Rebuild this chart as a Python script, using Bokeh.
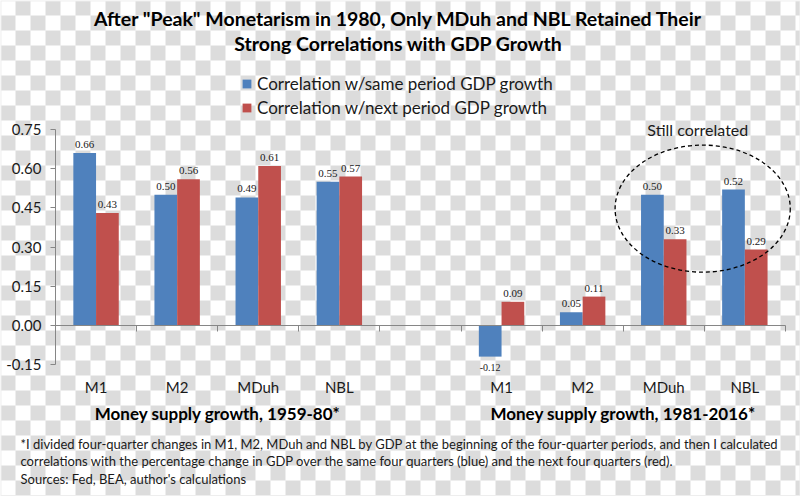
import base64
from bokeh.plotting import figure
from bokeh.models import (Range1d, LinearAxis, FixedTicker, NumeralTickFormatter,
                          ColumnDataSource, Label, LabelSet, Legend, LegendItem)
from bokeh.transform import dodge
from bokeh.embed import file_html
from bokeh.resources import INLINE

# ---------------- data ----------------
categories = ["M1", "M2", "MDuh", "NBL"]
period_labels = ["Money supply growth, 1959-80*", "Money supply growth, 1981-2016*"]
same_period_1959_80 = [0.66, 0.50, 0.49, 0.55]
next_period_1959_80 = [0.43, 0.56, 0.61, 0.57]
same_period_1981_2016 = [-0.12, 0.05, 0.50, 0.52]
next_period_1981_2016 = [0.09, 0.11, 0.33, 0.29]
y_ticks = [-0.15, 0.0, 0.15, 0.30, 0.45, 0.60, 0.75]
series_names = ["Correlation w/same period GDP growth",
                "Correlation w/next period GDP growth"]
title_lines = ['After "Peak" Monetarism in 1980, Only MDuh and NBL Retained Their',
               'Strong Correlations with GDP Growth']
footnote_lines = [
    "*I divided four-quarter changes in M1, M2, MDuh and NBL by GDP at the beginning of the four-quarter periods, and then I calculated",
    "correlations with the percentage change in GDP over the same four quarters (blue) and the next four quarters (red).",
    "Sources: Fed, BEA, author's calculations",
]
annotation_text = "Still correlated"

# ---------------- style / layout ----------------
FONT = "Lato"
BLUE = "#4F81BD"
RED = "#C0504D"
AXIS_GRAY = "#868686"
TEXT = "#1a1a1a"
CHECK = "#dcdcdc"
W, H = 800, 496
AXIS_LEFT_PX = 55      # pixel x of the value axis
SLOT_PX = 81.1         # pixel width of one category slot
ZERO_PX = 324.8        # pixel y of the zero line
UNIT_PX = 261.0        # pixels per 1.0 of correlation

n_cat = len(categories)
slots_per_group = n_cat + 1
n_slots = 2 * slots_per_group - 1
centers = [g * slots_per_group + i + 0.5 for g in range(2) for i in range(n_cat)]
group_centers = [g * slots_per_group + n_cat / 2 for g in range(2)]
boundaries = list(range(n_slots + 1))
bar_w = 0.28
y_lo, y_hi = min(y_ticks), max(y_ticks)

same_vals = same_period_1959_80 + same_period_1981_2016
next_vals = next_period_1959_80 + next_period_1981_2016
src = ColumnDataSource(dict(x=centers, same=same_vals, nxt=next_vals, cat=categories * 2))

x_range = Range1d(-AXIS_LEFT_PX / SLOT_PX, (W - AXIS_LEFT_PX) / SLOT_PX)
y_range = Range1d(-(H - ZERO_PX) / UNIT_PX, ZERO_PX / UNIT_PX)

p = figure(width=W, height=H, x_range=x_range, y_range=y_range,
           x_axis_type=None, y_axis_type=None, toolbar_location=None, output_backend="svg",
           min_border=0, min_border_left=0, min_border_right=0, min_border_top=0,
           min_border_bottom=0)
p.outline_line_color = None
p.background_fill_color = "#eeeeee"
p.border_fill_color = "#eeeeee"

# checkered page background (transparent-image look of the original)
checker_svg = (
    f"<svg xmlns='http://www.w3.org/2000/svg' width='{W}' height='{H}'>"
    "<defs><pattern id='c' width='30' height='30' patternUnits='userSpaceOnUse'>"
    "<rect width='30' height='30' fill='#ffffff'/>"
    f"<rect x='15' y='0' width='15' height='15' fill='{CHECK}'/>"
    f"<rect x='0' y='15' width='15' height='15' fill='{CHECK}'/>"
    "</pattern></defs>"
    f"<rect width='{W}' height='{H}' fill='url(#c)'/></svg>"
)
checker_url = "data:image/svg+xml;base64," + base64.b64encode(checker_svg.encode()).decode()
p.image_url(url=[checker_url], x=x_range.start, y=y_range.end, w=W, h=H,
            w_units="screen", h_units="screen", anchor="top_left", level="image")

r_same = p.vbar(x=dodge("x", -bar_w / 2), top="same", width=bar_w, source=src,
                fill_color=BLUE, line_color=None)
r_next = p.vbar(x=dodge("x", bar_w / 2), top="nxt", width=bar_w, source=src,
                fill_color=RED, line_color=None)

# value labels
pos = dict(x=[], y=[], t=[])
neg = dict(x=[], y=[], t=[])
for vals, off in ((same_vals, -bar_w / 2), (next_vals, bar_w / 2)):
    for c, v in zip(centers, vals):
        d = pos if v >= 0 else neg
        d["x"].append(c + off)
        d["y"].append(v)
        d["t"].append(f"{v:.2f}")
p.add_layout(LabelSet(x="x", y="y", text="t", source=ColumnDataSource(pos), text_align="center",
                      text_baseline="bottom", y_offset=5, text_font=FONT,
                      text_font_size="11px", text_color=TEXT))
p.add_layout(LabelSet(x="x", y="y", text="t", source=ColumnDataSource(neg), text_align="center",
                      text_baseline="top", y_offset=-7, text_font=FONT,
                      text_font_size="10px", text_color=TEXT))

# value axis at the left edge of the first slot
yax = LinearAxis(fixed_location=0, bounds=(y_lo, y_hi), ticker=FixedTicker(ticks=y_ticks),
                 formatter=NumeralTickFormatter(format="0.00"),
                 axis_line_color=AXIS_GRAY, major_tick_line_color=AXIS_GRAY,
                 major_tick_out=5, major_tick_in=0, minor_tick_line_color=None,
                 major_label_standoff=9, major_label_text_font=FONT,
                 major_label_text_font_size="15px", major_label_text_color=TEXT)
p.add_layout(yax, "left")

# zero line with slot boundary ticks
zero_axis = LinearAxis(fixed_location=0, bounds=(0, n_slots), ticker=FixedTicker(ticks=boundaries),
                       major_label_overrides={b: "" for b in boundaries},
                       axis_line_color=AXIS_GRAY, major_tick_line_color=AXIS_GRAY,
                       major_tick_out=6, major_tick_in=0, minor_tick_line_color=None,
                       major_label_text_font_size="1px")
p.add_layout(zero_axis, "below")

# category labels under the plot area
cat_axis = LinearAxis(fixed_location=y_lo, ticker=FixedTicker(ticks=centers),
                      major_label_overrides={c: n for c, n in zip(centers, categories * 2)},
                      axis_line_color=None, major_tick_line_color=None, minor_tick_line_color=None,
                      major_tick_out=0, major_tick_in=0, major_label_standoff=14,
                      major_label_text_font=FONT, major_label_text_font_size="15px",
                      major_label_text_color=TEXT)
p.add_layout(cat_axis, "below")

grp_axis = LinearAxis(fixed_location=y_lo, ticker=FixedTicker(ticks=group_centers),
                      major_label_overrides={c: n for c, n in zip(group_centers, period_labels)},
                      axis_line_color=None, major_tick_line_color=None, minor_tick_line_color=None,
                      major_tick_out=0, major_tick_in=0, major_label_standoff=39,
                      major_label_text_font=FONT, major_label_text_font_size="17px",
                      major_label_text_font_style="bold", major_label_text_color="#000000")
p.add_layout(grp_axis, "below")

# annotation ellipse
ell_x, ell_y, ell_w, ell_h = 7.98, 0.447, 2.16, 0.487
p.ellipse(x=[ell_x], y=[ell_y], width=[ell_w], height=[ell_h], fill_alpha=0,
          line_color="#000000", line_dash="4 3", line_width=1.3)
p.add_layout(Label(x=7.92, y=y_hi, text=annotation_text, text_align="center",
                   text_baseline="middle", text_font=FONT, text_font_size="16px",
                   text_color=TEXT))

# legend (location = bottom-left corner, in pixels from the bottom-left of the canvas)
legend = Legend(items=[LegendItem(label=series_names[0], renderers=[r_same]),
                       LegendItem(label=series_names[1], renderers=[r_next])],
                location=(241, H - 118), orientation="vertical", padding=0, margin=0,
                spacing=3, glyph_width=11, glyph_height=11, label_standoff=5,
                label_height=19, label_text_font=FONT, label_text_font_size="17px",
                label_text_color=TEXT, border_line_color=None, background_fill_alpha=0)
p.add_layout(legend, "center")

# title
for i, line in enumerate(title_lines):
    p.add_layout(Label(x=398, y=H - 18 - 25 * i, x_units="screen", y_units="screen", text=line,
                       text_align="center", text_baseline="middle", text_font=FONT,
                       text_font_size="19.5px", text_font_style="bold", text_color="#000000"))

# footnotes
for i, line in enumerate(footnote_lines):
    p.add_layout(Label(x=20, y=H - 443 - 17.5 * i, x_units="screen", y_units="screen", text=line,
                       text_align="left", text_baseline="middle", text_font=FONT,
                       text_font_size="13px", text_color=TEXT))

open("out.html", "w").write(file_html(p, INLINE))
